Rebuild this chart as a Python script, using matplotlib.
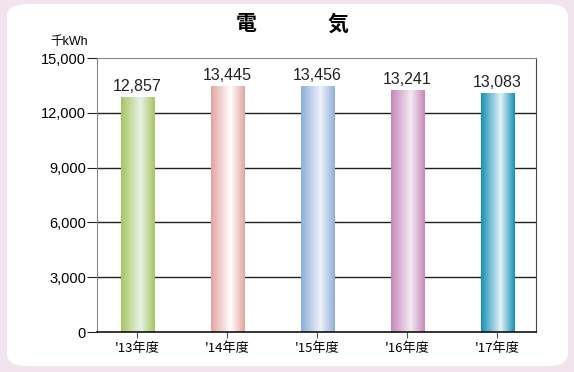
import numpy as np
from matplotlib import pyplot as plt
from matplotlib.colors import LinearSegmentedColormap
from matplotlib.patches import FancyBboxPatch

plt.rcParams['font.family'] = ['Noto Sans CJK JP', 'DejaVu Sans']

# Electricity use per fiscal year (thousand kWh).
years = ["'13年度", "'14年度", "'15年度", "'16年度", "'17年度"]
usage = [12857, 13445, 13456, 13241, 13083]

# Edge / centre colours of each bar's cylinder shading.
edgeColors = ['#a8c464', '#e3a49f', '#8eaedb', '#c786bb', '#1690b3']
midColors = ['#e8f2e4', '#ffffff', '#eef2fa', '#f2eaf2', '#e2f2fa']

yTicks = [0, 3000, 6000, 9000, 12000, 15000]

if __name__ == '__main__':
  fig = plt.figure(figsize=(5.74, 3.72), dpi=100)
  fig.patch.set_facecolor('#f2e4ef')

  # White rounded panel behind the chart.
  W, H = 574.0, 372.0
  panel = FancyBboxPatch((7 / W, 6 / H), 561 / W, 362 / H,
                         boxstyle='round,pad=0,rounding_size=0.035',
                         transform=fig.transFigure, facecolor='white',
                         edgecolor='none', zorder=-5)
  fig.patches.append(panel)

  ax = fig.add_axes([97 / W, 40 / H, 439 / W, 274 / H])
  ax.set_zorder(2)
  ax.set_facecolor('none')

  x = np.arange(len(years))
  barWidth = 0.37

  # Gridlines.
  for y in yTicks[1:-1]:
    ax.axhline(y, color='#222222', lw=1.0, zorder=1)

  # Bars with horizontal gradient shading.
  grad = np.linspace(0, 1, 256).reshape(1, -1)
  for xi, val, ec, mc in zip(x, usage, edgeColors, midColors):
    cmap = LinearSegmentedColormap.from_list(
      'bar', [(0, ec), (0.58, mc), (1, ec)])
    ax.imshow(grad, cmap=cmap, aspect='auto', interpolation='bilinear',
              extent=(xi - barWidth / 2, xi + barWidth / 2, 0, val), zorder=2)
    ax.text(xi, val + 180, f'{val:,}', ha='center', va='bottom',
            fontsize=11.5, family='Liberation Sans', color='#222222')

  ax.set_xlim(-0.45, len(years) - 0.57)
  ax.set_ylim(0, 15000)

  ax.set_xticks(x)
  ax.set_xticklabels(years, fontsize=9.5)
  ax.set_yticks(yTicks)
  ax.set_yticklabels([f'{v:,}' for v in yTicks], fontsize=10.5,
                     family='Liberation Sans')
  ax.tick_params(axis='x', direction='out', length=4, color='#555555',
                 pad=3)
  ax.tick_params(axis='y', direction='out', length=7, color='#222222',
                 pad=1)

  for side in ['left', 'top']:
    ax.spines[side].set_color('#888888')
  ax.spines['right'].set_color('#444444')
  ax.spines['bottom'].set_color('#111111')
  ax.spines['bottom'].set_linewidth(1.2)

  fig.text(88 / W, 1 - 42 / H, '千kWh', ha='right', va='center',
           fontsize=9, family=['Liberation Sans', 'Noto Sans CJK JP'])
  # Title characters are spread wide apart.
  for cx, ch in [(246, '電'), (338, '気')]:
    fig.text(cx / W, 1 - 24 / H, ch, ha='center', va='center',
             fontsize=15, fontweight='bold')

  fig.savefig('out.png', dpi=100)
